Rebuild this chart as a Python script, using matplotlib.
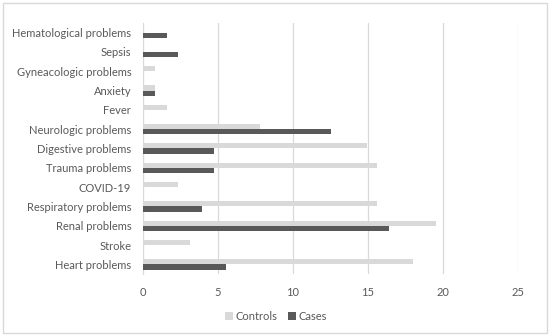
import numpy as np
import matplotlib
matplotlib.use("Agg")
import matplotlib.pyplot as plt
from matplotlib.patches import Rectangle

# categories listed bottom to top
categories = ["Heart problems", "Stroke", "Renal problems", "Respiratory problems",
              "COVID-19", "Trauma problems", "Digestive problems", "Neurologic problems",
              "Fever", "Anxiety", "Gyneacologic problems", "Sepsis", "Hematological problems"]
controls = [18.0, 3.1, 19.5, 15.6, 2.3, 15.6, 14.9, 7.8, 1.6, 0.8, 0.8, 0, 0]
cases = [5.5, 0, 16.4, 3.9, 0, 4.7, 4.7, 12.5, 0, 0.8, 0, 2.3, 1.6]
xticks = [0, 5, 10, 15, 20, 25]

plt.rcParams['font.family'] = ['Lato', 'DejaVu Sans']

fig = plt.figure(figsize=(5.5, 3.36), dpi=100)
ax = fig.add_axes([143 / 550, 1 - 274 / 336, (518 - 143) / 550, 251 / 336])

y = np.arange(len(categories))
h = 0.27
ax.barh(y + h / 2, controls, height=h, color="#d9d9d9", label="Controls", zorder=3)
ax.barh(y - h / 2, cases, height=h, color="#595959", label="Cases", zorder=3)

ax.set_ylim(-0.5, len(categories) - 0.5)
ax.set_xlim(0, 25)
ax.set_xticks(xticks)
ax.set_yticks(y)
ax.set_yticklabels(categories)
ax.grid(axis="x", color="#d9d9d9", linewidth=0.9, zorder=0)
for s in ["top", "right", "bottom"]:
    ax.spines[s].set_visible(False)
ax.spines["left"].set_color("#d9d9d9")
ax.tick_params(axis="both", length=0, colors="#595959", labelsize=8)
ax.tick_params(axis="x", pad=9)
ax.tick_params(axis="y", pad=8.5)

fig.legend(loc="center", bbox_to_anchor=(0.502, 1 - 316 / 336), ncol=2, frameon=False,
           fontsize=8, labelcolor="#595959", handlelength=0.7, handleheight=0.7,
           handletextpad=0.2, columnspacing=1.0)

fig.patches.append(Rectangle((3 / 550, 3 / 336), 544 / 550, 330 / 336, transform=fig.transFigure,
                             fill=False, edgecolor="#d9d9d9", linewidth=1))

fig.savefig("out.png", dpi=100)
